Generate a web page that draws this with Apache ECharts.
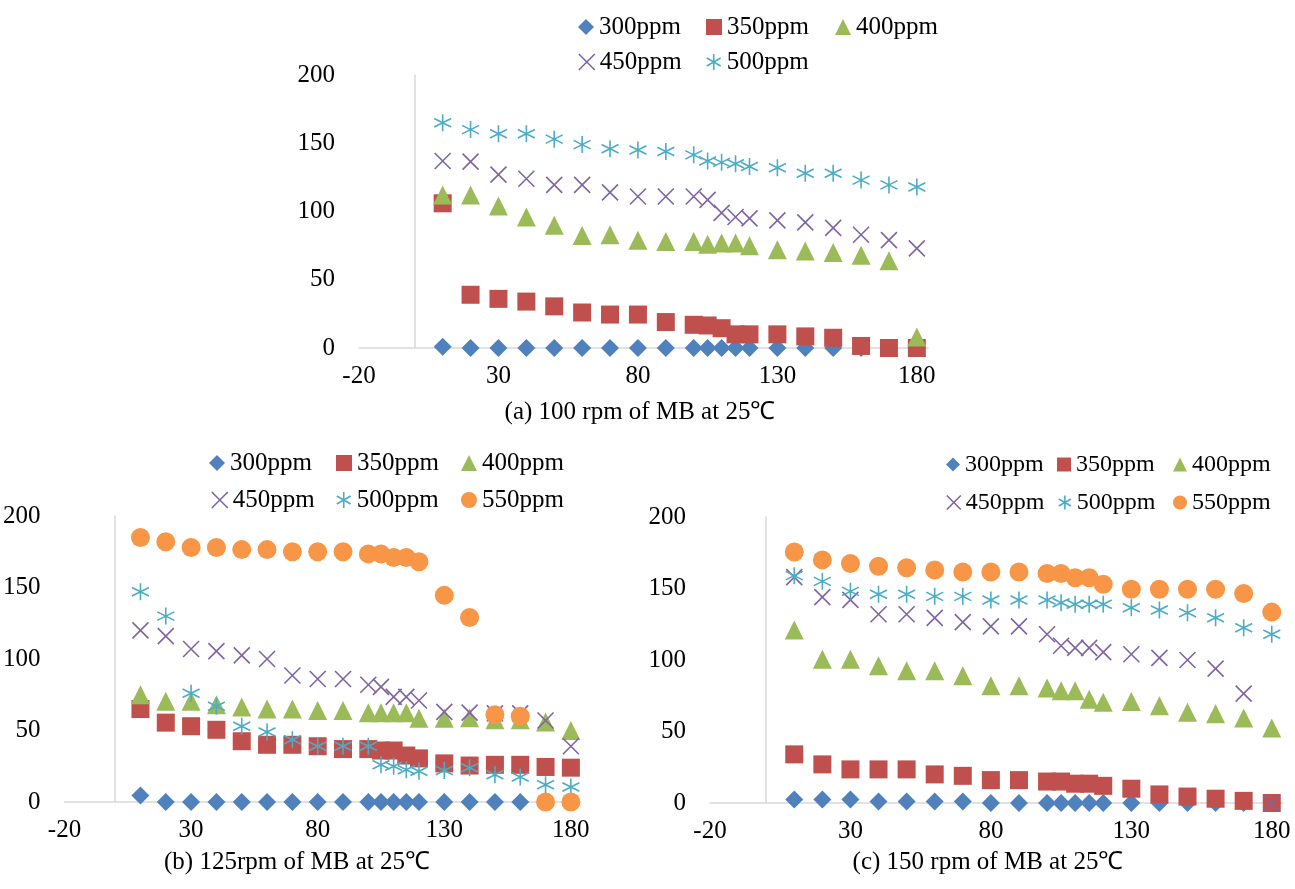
<!DOCTYPE html>
<html>
<head>
<meta charset="utf-8">
<script src="https://cdn.jsdelivr.net/npm/echarts@6/dist/echarts.min.js"></script>
<style>
html,body{margin:0;padding:0;background:#fff;}
#chart{width:1295px;height:889px;}
</style>
</head>
<body>
<div id="chart"></div>
<script>
// shared x values (time)
var xValues = [10,20,30,40,50,60,70,80,90,100,105,110,115,120,130,140,150,160,170,180];
var seriesNames = ['300ppm','350ppm','400ppm','450ppm','500ppm','550ppm'];
var xTicks = [-20,30,80,130,180];
var yTicks = [0,50,100,150,200];

// (a) 100 rpm
var a300 = [1,0,0,0,0,0,0,0,0,0,0,0,0,0,0,0,0,0,0,0];
var a350 = [106,39,36,34,30.5,26,24.5,24.5,19,17,16.5,14.5,10,10,10,8.5,7.5,1.5,0,0];
var a400 = [112,112,104,96,90,82.5,83,79,78,78,76,77,77,75,72,71,70,68,64,8];
var a450 = [137,136.5,127,124,119.5,119.5,114,111,111,111,108.5,99,96,95,93.5,92,88,83,79,73];
var a500 = [165,160,157,157,153,149,146,145,144,141.5,137,136,135,133,132,128,128,123,119.5,118];

// (b) 125 rpm
var b300 = [4.5,0,0,0,0,0,0,0,0,0,0,0,0,0,0,0,0,0,0,0];
var b350 = [65,55.5,53,50.5,42.5,40,40,39,37,37,36,36,32.5,30.5,27,25.5,26,26,24.5,24];
var b400 = [75,70.5,70.5,68,66.5,65,65,64,64,62.5,62.5,62.5,62.5,58.5,58.5,59,57.5,57.5,56,50];
var b450 = [120,116,107,105.5,102.5,100,88.5,86,86,82,80.5,73.5,73.5,71,63,62.5,62,62,57,39];
var b500 = [147,130,76,67,53,49,43.5,39,39,39,26,25,22.5,21.5,22,24,19,17.5,12,10.5];
var b550 = [185,182,178,178,176.5,176.5,175,175,175,173.5,173.5,171,171,168,144.5,129,61,60,0,0];

// (c) 150 rpm
var c300 = [2.5,2.5,2.5,1,1,1,1,0,0,0,0,0,0,0,0,0,0,0,0,0];
var c350 = [34,27,23.5,23.5,23.5,20,19,16,16,15,15,13.5,13.5,12,10,6,4.5,3,1.5,0];
var c400 = [121,100.5,100.5,96,92.5,92.5,89,82,82,80.5,78.5,78.5,72.5,70.5,71,68,63.5,62.5,59.5,52.5];
var c450 = [158,144,142,132,132,129.5,126.5,123.5,123.5,118,110,108.5,108.5,105.5,104,101.5,100,94,76.5,0];
var c500 = [159,155,148,146,146,144.5,144.5,142,142,142,140,139,139,139,136.5,135,133,129.5,122.5,118];
var c550 = [175.5,170,167.5,165.5,164.5,163,161.5,161.5,161.5,160.5,160.5,157.5,157.5,153,149.5,149.5,149.5,149.5,146.5,133.5];

var captions = ['(a) 100 rpm of MB at 25\u2103', '(b) 125rpm of MB at 25\u2103', '(c) 150 rpm of MB at 25\u2103'];

var FONT = "'Liberation Serif','Times New Roman',serif";
var AXIS_COLOR = '#D9D9D9';
var TEXT_COLOR = '#000';

var styles = {
  '300ppm': {symbol:'diamond', size:18, color:'#4F81BD', stroke:false},
  '350ppm': {symbol:'rect', size:18, color:'#C0504D', stroke:false},
  '400ppm': {symbol:'triangle', size:19, color:'#9BBB59', stroke:false},
  '450ppm': {symbol:'path://M0,0L10,10M10,0L0,10', size:16, color:'#8064A2', stroke:true},
  '500ppm': {symbol:'path://M5,0L5,10M0.67,2.5L9.33,7.5M0.67,7.5L9.33,2.5', size:17, color:'#4BACC6', stroke:true},
  '550ppm': {symbol:'circle', size:19, color:'#F79646', stroke:false}
};

var grids = [
  {left:359, top:75, width:569, height:273},
  {left:32, top:516, width:549, height:286},
  {left:710, top:517, width:573, height:286}
];

var chartData = [
  [a300,a350,a400,a450,a500],
  [b300,b350,b400,b450,b500,b550],
  [c300,c350,c400,c450,c500,c550]
];

// legend item placements: [name, iconLeft, centerY, iconSize, fontSize]
var legendItems = [
  ['300ppm',578,27,16,25],['350ppm',706,27,16,25],['400ppm',835,27,16,25],
  ['450ppm',578,62,16,25],['500ppm',706,62,16,25],
  ['300ppm',209,463,16,25],['350ppm',336,463,16,25],['400ppm',461,463,16,25],
  ['450ppm',211,500,16,25],['500ppm',336,500,16,25],['550ppm',461,500,16,25],
  ['300ppm',946,465,14,24],['350ppm',1057,465,14,24],['400ppm',1173,465,14,24],
  ['450ppm',946,503,14,24],['500ppm',1058,503,14,24],['550ppm',1173,503,14,24]
];

var xAxes = [], yAxes = [], series = [], legends = [], graphics = [];

grids.forEach(function(g, gi){
  xAxes.push({
    type:'value', gridIndex:gi, min:xTicks[0], max:184, interval:50,
    axisLine:{show:true, onZero:true, lineStyle:{color:AXIS_COLOR, width:1.5}},
    axisTick:{show:false}, splitLine:{show:false},
    axisLabel:{margin:16, fontSize:25, color:TEXT_COLOR, fontFamily:FONT, showMaxLabel:false,
      formatter:function(v){ return xTicks.indexOf(v) >= 0 ? String(v) : ''; }}
  });
  yAxes.push({
    type:'value', gridIndex:gi, min:yTicks[0], max:yTicks[yTicks.length-1], interval:50,
    axisLine:{show:true, onZero:true, lineStyle:{color:AXIS_COLOR, width:1.5}},
    axisTick:{show:false}, splitLine:{show:false},
    axisLabel:{margin:24, fontSize:25, color:TEXT_COLOR, fontFamily:FONT}
  });
  chartData[gi].forEach(function(arr, si){
    var name = seriesNames[si];
    var st = styles[name];
    series.push({
      type:'scatter', name:name, xAxisIndex:gi, yAxisIndex:gi,
      symbol:st.symbol, symbolSize:st.size,
      itemStyle: st.stroke ? {color:st.color, borderColor:st.color, borderWidth:1.6, opacity:1} : {color:st.color, borderWidth:0, opacity:1},
      emphasis:{disabled:true},
      data: arr.map(function(v, i){ return [xValues[i], v]; })
    });
  });
});

legendItems.forEach(function(it){
  var st = styles[it[0]];
  legends.push({
    data:[it[0]], left:it[1], top:it[2] - 12.5, padding:0,
    itemWidth:it[3], itemHeight:it[3], selectedMode:false,
    itemStyle: st.stroke ? {borderColor:st.color, borderWidth:1.6, opacity:1} : {borderWidth:0, opacity:1},
    textStyle:{fontSize:it[4], fontFamily:FONT, color:TEXT_COLOR}
  });
});

var capPos = [[640,412],[297,862],[988,862]];
captions.forEach(function(t, i){
  graphics.push({type:'text', x:capPos[i][0], y:capPos[i][1],
    style:{text:t, font:'25px ' + FONT, fill:TEXT_COLOR, textAlign:'center', textVerticalAlign:'middle'}});
});

var chart = echarts.init(document.getElementById('chart'));
chart.setOption({
  backgroundColor:'#fff',
  animation:false,
  grid:grids,
  xAxis:xAxes,
  yAxis:yAxes,
  legend:legends,
  series:series,
  graphic:graphics
});
</script>
</body>
</html>
